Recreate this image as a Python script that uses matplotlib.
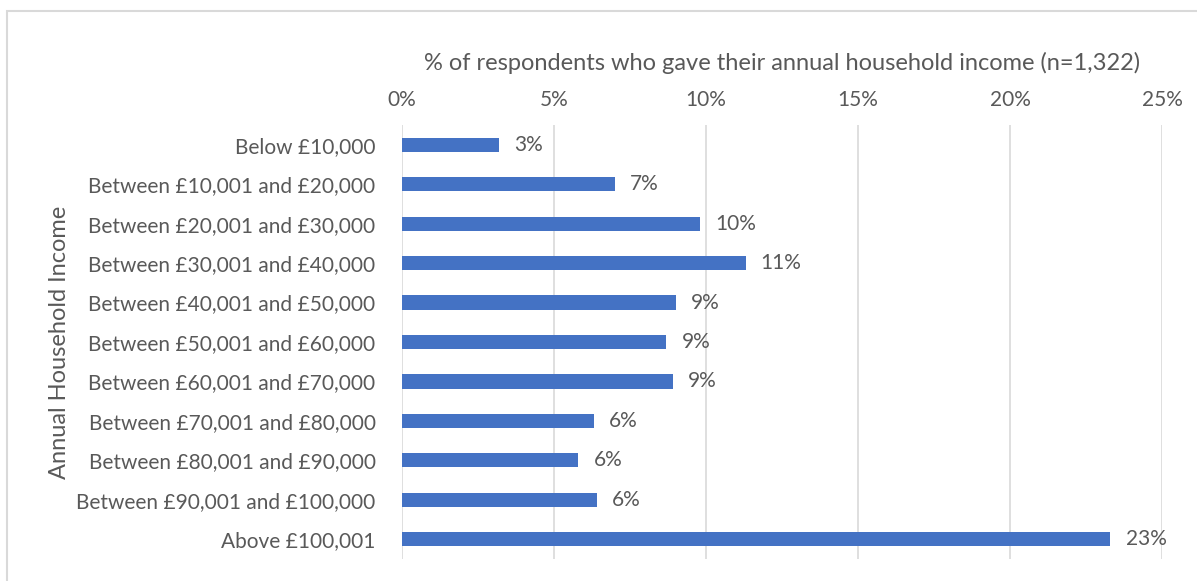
import matplotlib
matplotlib.use("Agg")
import matplotlib.pyplot as plt
from matplotlib.patches import Rectangle

plt.rcParams['font.family'] = ['Lato', 'DejaVu Sans']

categories = [
    "Below £10,000",
    "Between £10,001 and £20,000",
    "Between £20,001 and £30,000",
    "Between £30,001 and £40,000",
    "Between £40,001 and £50,000",
    "Between £50,001 and £60,000",
    "Between £60,001 and £70,000",
    "Between £70,001 and £80,000",
    "Between £80,001 and £90,000",
    "Between £90,001 and £100,000",
    "Above £100,001",
]
percent = [3.2, 7.0, 9.8, 11.3, 9.0, 8.7, 8.9, 6.3, 5.8, 6.4, 23.3]
x_ticks = [0, 5, 10, 15, 20, 25]
x_title = "% of respondents who gave their annual household income (n=1,322)"
y_title = "Annual Household Income"

TEXT = "#595959"
BAR = "#4472C4"
GRID = "#D9D9D9"

fig = plt.figure(figsize=(11.97, 5.81), dpi=100)
W, H = 1197, 581
ax = fig.add_axes([402 / W, 1 - 559 / H, (1162 - 402) / W, (559 - 125) / H])

# outer chart frame
fig.patches.append(Rectangle((7 / W, -0.1), 1.2, (1 - 11 / H) + 0.1,
                             transform=fig.transFigure, fill=False,
                             edgecolor=GRID, linewidth=1.5))

y = list(range(len(categories)))
ax.barh(y, percent, height=0.36, color=BAR, zorder=3)
for yi, v in zip(y, percent):
    ax.text(v + 0.5, yi, f"{v:.0f}%", va="center", ha="left",
            fontsize=15, color=TEXT)

ax.set_xlim(0, 25)
ax.set_ylim(len(categories) - 0.5, -0.5)
ax.set_yticks(y)
ax.set_yticklabels(categories, fontsize=15, color=TEXT)
ax.set_xticks(x_ticks)
ax.set_xticklabels([f"{t}%" for t in x_ticks], fontsize=15, color=TEXT)
ax.xaxis.tick_top()
ax.xaxis.set_label_position("top")
ax.tick_params(axis="both", length=0)
ax.tick_params(axis="x", pad=11)
ax.tick_params(axis="y", pad=19)
ax.grid(axis="x", color=GRID, linewidth=1.2, zorder=0)
ax.set_axisbelow(True)
for s in ax.spines.values():
    s.set_visible(False)

ax.set_xlabel(x_title, fontsize=17, color=TEXT, labelpad=14)
fig.text(60 / W, 1 - 342 / H, y_title, rotation=90, ha="center", va="center",
         fontsize=17, color=TEXT)

fig.savefig("out.png", dpi=100, facecolor="white")
